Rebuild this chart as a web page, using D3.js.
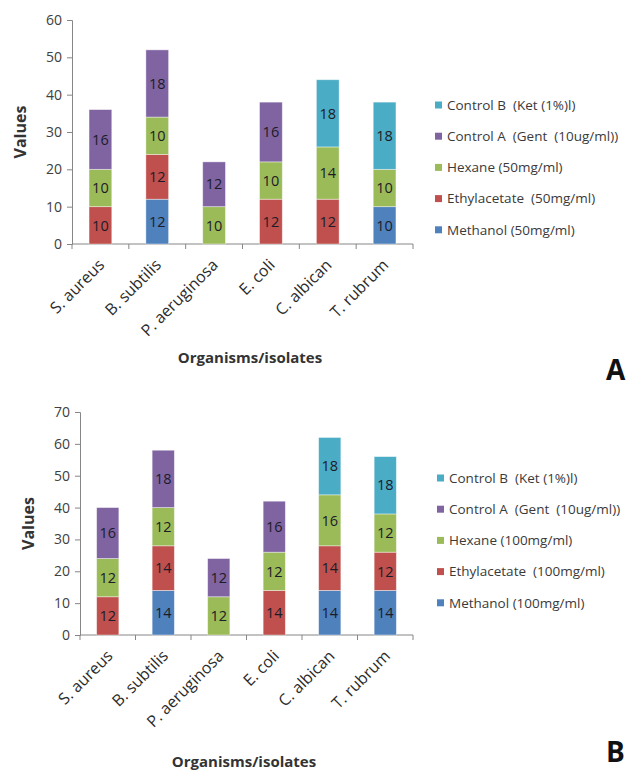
<!DOCTYPE html>
<html><head><meta charset="utf-8">
<script src="https://cdn.jsdelivr.net/npm/d3@7"></script>
<style>body{margin:0;background:#fff}svg{display:block}text{font-family:"Open Sans",sans-serif}.leg{white-space:pre}</style>
</head><body><svg id="c" width="628" height="772"></svg>
<script>
const categories = ["S. aureus","B. subtilis","P. aeruginosa","E. coli","C. albican","T. rubrum"];
const seriesKeys = ["Methanol","Ethylacetate","Hexane","ControlA","ControlB"];
const colors = ["#4F81BD","#C0504D","#9BBB59","#8064A2","#4BACC6"];
// Panel A (50 mg/ml)
const methanolA   = [0,12,0,0,0,10];
const ethylA      = [10,12,0,12,12,0];
const hexaneA     = [10,10,10,10,14,10];
const controlAA   = [16,18,12,16,0,0];
const controlBA   = [0,0,0,0,18,18];
const legendA = ["Control B  (Ket (1%)l)","Control A  (Gent  (10ug/ml))","Hexane (50mg/ml)","Ethylacetate  (50mg/ml)","Methanol (50mg/ml)"];
const ticksA = [0,10,20,30,40,50,60];
// Panel B (100 mg/ml)
const methanolB   = [0,14,0,0,14,14];
const ethylB      = [12,14,0,14,14,12];
const hexaneB     = [12,12,12,12,16,12];
const controlAB   = [16,18,12,16,0,0];
const controlBB   = [0,0,0,0,18,18];
const legendB = ["Control B  (Ket (1%)l)","Control A  (Gent  (10ug/ml))","Hexane (100mg/ml)","Ethylacetate  (100mg/ml)","Methanol (100mg/ml)"];
const ticksB = [0,10,20,30,40,50,60,70];

const svg = d3.select("#c");

function panel(cfg){
  const g = svg.append("g");
  const rows = categories.map((c,i)=>({cat:c, Methanol:cfg.vals[0][i], Ethylacetate:cfg.vals[1][i], Hexane:cfg.vals[2][i], ControlA:cfg.vals[3][i], ControlB:cfg.vals[4][i]}));
  const stack = d3.stack().keys(seriesKeys)(rows);
  const x = d3.scaleBand().domain(categories).range([cfg.x0,cfg.x1]).padding(0);
  const y = d3.scaleLinear().domain([0,d3.max(cfg.ticks)]).range([cfg.y0,cfg.y1]);
  const step = x.step(), bw = step*0.4;
  // axes
  const ya = g.append("g").attr("transform",`translate(${cfg.x0},0)`)
    .call(d3.axisLeft(y).tickValues(cfg.ticks).tickSize(5).tickPadding(5).tickFormat(d3.format("d")));
  ya.select(".domain").attr("stroke","#868686");
  ya.selectAll(".tick line").attr("stroke","#868686");
  ya.selectAll("text").attr("font-size",cfg.tickFs).attr("fill","#404040").attr("font-family","'Open Sans',sans-serif");
  const xa = g.append("g").attr("transform",`translate(0,${cfg.y0})`);
  xa.append("line").attr("x1",cfg.x0).attr("x2",cfg.x1).attr("stroke","#868686");
  const bounds = categories.map(c=>x(c)).concat([cfg.x1]);
  xa.selectAll("line.t").data(bounds).join("line").attr("class","t")
    .attr("x1",d=>d).attr("x2",d=>d).attr("y1",0).attr("y2",5).attr("stroke","#868686");
  xa.selectAll("text").data(categories).join("text")
    .attr("transform",d=>`translate(${x(d)+step/2+cfg.lx},${cfg.ly}) rotate(-45)`)
    .attr("text-anchor","end").attr("dy","0.35em")
    .attr("font-size",cfg.catFs).attr("fill","#2b2b2b").text(d=>d);
  // bars
  stack.forEach((s,si)=>{
    const sg = g.append("g");
    s.forEach((d,i)=>{
      const v = d[1]-d[0];
      if(!v) return;
      const c = categories[i];
      sg.append("rect").attr("x",x(c)+(step-bw)/2).attr("width",bw)
        .attr("y",y(d[1])).attr("height",y(d[0])-y(d[1]))
        .attr("fill",colors[si]).attr("stroke","#ffffff").attr("stroke-opacity",0.5).attr("stroke-width",0.8);
      sg.append("text").attr("x",x(c)+step/2).attr("y",(y(d[0])+y(d[1]))/2).attr("dy","0.36em")
        .attr("text-anchor","middle").attr("font-size",cfg.valFs).attr("fill","#1c1c28").text(v);
    });
  });
  // titles
  g.append("text").attr("transform",`translate(${cfg.yTitleX},${(cfg.y0+cfg.y1)/2}) rotate(-90)`)
    .attr("text-anchor","middle").attr("dy","0.35em").attr("font-size",16).attr("font-weight","bold").attr("fill","#333").text("Values");
  g.append("text").attr("x",cfg.xTitleX).attr("y",cfg.xTitleY).attr("text-anchor","middle").attr("dy","0.35em")
    .attr("font-size",15).attr("font-weight","bold").attr("fill","#333").text("Organisms/isolates");
  // legend (top to bottom: Control B ... Methanol)
  const lg = g.append("g");
  cfg.legend.forEach((t,i)=>{
    const yy = cfg.legY + i*cfg.legStep;
    lg.append("rect").attr("x",cfg.legX).attr("y",yy-3.5).attr("width",7).attr("height",7).attr("fill",colors[4-i]);
    lg.append("text").attr("class","leg").attr("x",cfg.legX+12).attr("y",yy).attr("dy","0.35em").attr("font-size",13.5).attr("fill","#3a3a3a").text(t);
  });
  g.append("text").attr("x",cfg.letterX).attr("y",cfg.letterY).attr("font-size",28).attr("font-weight","bold")
    .attr("font-family","'Liberation Sans',Arial,sans-serif").attr("fill","#111").text(cfg.letter);
}

panel({vals:[methanolA,ethylA,hexaneA,controlAA,controlBA], ticks:ticksA, legend:legendA,
  x0:72,x1:413,y0:244,y1:20, tickFs:14, catFs:16, valFs:14.5, lx:1, ly:18,
  yTitleX:20, xTitleX:250, xTitleY:358, legX:435, legY:105, legStep:31.2, letter:"A", letterX:606, letterY:380});
panel({vals:[methanolB,ethylB,hexaneB,controlAB,controlBB], ticks:ticksB, legend:legendB,
  x0:80,x1:413,y0:635,y1:412, tickFs:14, catFs:16, valFs:14.5, lx:2, ly:18,
  yTitleX:28, xTitleX:244, xTitleY:762, legX:437, legY:478, legStep:31.2, letter:"B", letterX:606, letterY:762});
</script></body></html>
